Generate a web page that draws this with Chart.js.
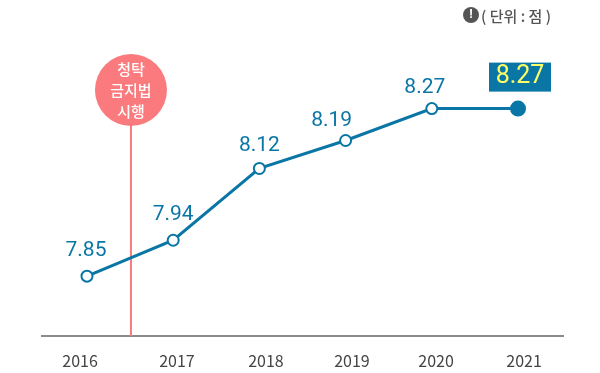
<!DOCTYPE html>
<html lang="ko">
<head>
<meta charset="utf-8">
<style>
    html, body { margin: 0; padding: 0; background: #fff; }
    #wrap { width: 600px; height: 373px; }
</style>
<script src="https://cdn.jsdelivr.net/npm/chart.js@4"></script>
</head>
<body>
<div id="wrap"><canvas id="scoreChart" width="600" height="373"></canvas></div>
<script>
// Data
const years = ["2016", "2017", "2018", "2019", "2020", "2021"];
const scores = [7.85, 7.94, 8.12, 8.19, 8.27, 8.27];
const unitText = "( 단위 : 점 )";
const noteLines = ["청탁", "금지법", "시행"];
const noteX = 0.51;         // between 2016 and 2017
const noteTop = 8.3165;

// Year labels sit a bit off the points in the original
const yearTickAt = [-0.08, 1.044, 2.076, 3.074, 4.05, 5.07];
// Value label shift from each point [dx, dy]
const labelShift = [[-1, -25], [0, -26], [0, -23], [-14, -20], [-7, -21]];

const blue = "#0a76a5";
const red = "#fb7a7d";

// Draws value labels, the note text, the unit text
const textPlugin = {
    id: "chartText",
    afterDatasetsDraw(chart) {
        const ctx = chart.ctx;
        const points = chart.getDatasetMeta(0).data;
        ctx.save();
        ctx.textAlign = "center";
        ctx.textBaseline = "middle";

        // value labels
        ctx.font = "21px Roboto";
        ctx.fillStyle = blue;
        labelShift.forEach((shift, i) => {
            ctx.fillText(scores[i].toFixed(2), points[i].x + shift[0], points[i].y + shift[1]);
        });

        // highlighted last value
        const last = points[points.length - 1];
        ctx.fillStyle = blue;
        ctx.fillRect(last.x - 29, last.y - 46, 62, 29);
        ctx.fillStyle = "#ffff66";
        ctx.font = "25px Roboto";
        ctx.fillText(scores[scores.length - 1].toFixed(2), last.x + 2, last.y - 32);

        // note inside the circle
        const note = chart.getDatasetMeta(1).data[0];
        ctx.fillStyle = "#fff";
        ctx.font = "500 15px 'Noto Sans CJK KR'";
        noteLines.forEach((line, i) => {
            ctx.fillText(line, note.x, note.y + (i - 1) * 21);
        });

        // unit text with the ! icon
        ctx.fillStyle = "#555";
        ctx.beginPath();
        ctx.arc(471, 15, 8, 0, Math.PI * 2);
        ctx.fill();
        ctx.fillStyle = "#fff";
        ctx.font = "bold 13px Roboto";
        ctx.fillText("!", 471, 15);
        ctx.fillStyle = "#555";
        ctx.font = "500 15px 'Noto Sans CJK KR'";
        ctx.textAlign = "left";
        ctx.fillText(unitText, 481, 16);
        ctx.restore();
    }
};

new Chart(document.getElementById("scoreChart").getContext("2d"), {
    type: "line",
    data: {
        datasets: [
            {
                data: scores.map((v, i) => ({ x: i, y: v })),
                borderColor: blue,
                borderWidth: 3,
                tension: 0,
                clip: false,
                pointRadius: [5.5, 5.5, 5.5, 5.5, 5.5, 7],
                pointBackgroundColor: ["#fff", "#fff", "#fff", "#fff", "#fff", blue],
                pointBorderColor: blue,
                pointBorderWidth: 2
            },
            {
                // note circle with its line down to the axis
                data: [{ x: noteX, y: noteTop }, { x: noteX, y: 7.7 }],
                borderColor: red,
                borderWidth: 2,
                clip: false,
                pointRadius: [36, 0],
                pointBackgroundColor: red,
                pointBorderColor: red,
                pointBorderWidth: 0
            }
        ]
    },
    options: {
        responsive: false,
        animation: false,
        layout: { padding: { left: 42, right: 37, top: 17, bottom: 0 } },
        plugins: { legend: { display: false }, tooltip: { enabled: false } },
        scales: {
            x: {
                type: "linear",
                min: -0.522,
                max: 5.522,
                grid: { display: false, drawTicks: false },
                border: { color: "#8a8a8a", width: 2 },
                afterBuildTicks(scale) {
                    scale.ticks = yearTickAt.map(v => ({ value: v }));
                },
                afterFit(scale) { scale.height = 37; },
                ticks: {
                    autoSkip: false,
                    maxRotation: 0,
                    padding: 15,
                    color: "#444",
                    font: { family: "'Noto Sans CJK KR'", size: 16, weight: "400" },
                    callback: (value, i) => years[i]
                }
            },
            y: { display: false, min: 7.7, max: 8.452 }
        }
    },
    plugins: [textPlugin]
});
</script>
</body>
</html>
